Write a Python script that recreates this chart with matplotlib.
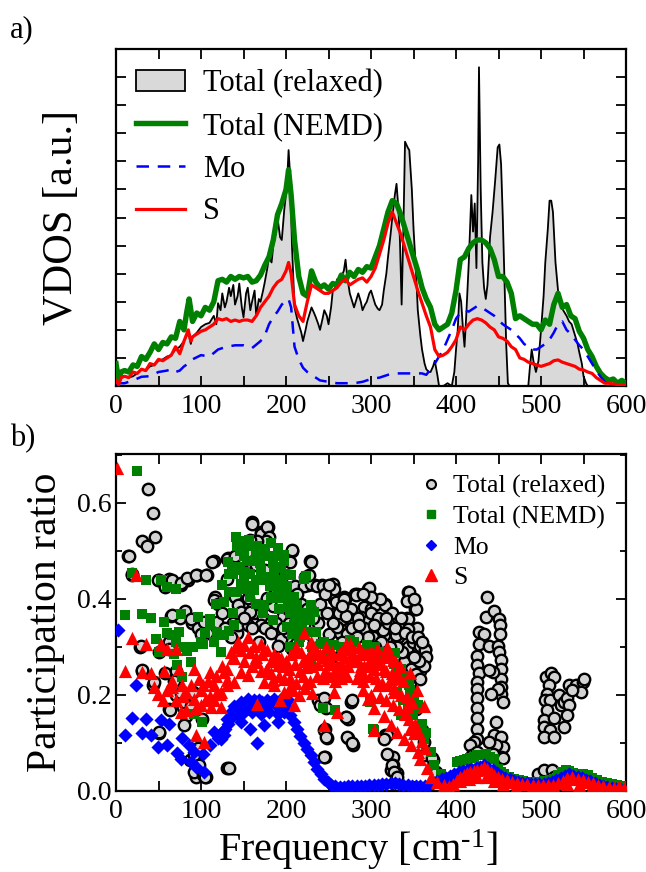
import numpy as np
import matplotlib
matplotlib.use("Agg")
import matplotlib.pyplot as plt
from matplotlib.patches import Patch
from matplotlib.lines import Line2D
from matplotlib.ticker import MultipleLocator, NullFormatter

plt.rcParams['font.family'] = ['Liberation Serif', 'DejaVu Serif']
plt.rcParams['mathtext.fontset'] = 'custom'
plt.rcParams['mathtext.rm'] = 'Liberation Serif'
plt.rcParams['mathtext.it'] = 'Liberation Serif:italic'

# ---------------- (a) VDOS ----------------
relaxed_f = [0,3,6,10,15,20,25,30,35,40,45,50,55,60,65,70,75,80,85,88,90,95,100,105,110,115,118,120,123,125,128,130,133,135,138,140,143,145,148,150,153,155,158,160,163,165,168,170,173,175,178,180,183,185,188,190,193,195,198,201,203,205,207,210,213,215,218,220,223,225,228,230,233,235,238,240,243,245,248,250,253,255,258,260,263,265,268,270,272,275,278,280,283,285,288,290,293,295,298,300,303,305,308,310,313,315,318,320,323,325,328,330,332,334,336,338,340,343,345,348,350,353,355,358,360,363,365,368,370,373,375,378,380,385,390,395,398,400,402,404,406,408,410,412,415,418,420,422,424,426,427,429,431,433,435,437,440,443,446,449,451,453,455,457,459,461,463,485,487,489,491,494,497,500,503,505,508,510,512,514,517,520,523,526,530,533,536,540,543,545,548,550,553,555,600]
relaxed_v = [0.1,0.0,0.3,0.35,0.3,0.35,0.45,0.6,0.55,0.7,0.75,0.9,0.95,1.05,1.1,1.3,1.4,1.6,1.9,1.5,1.75,1.9,2.1,2.2,2.25,2.5,2.2,2.95,2.7,3.3,2.8,3.0,3.5,3.2,3.6,2.9,3.2,3.65,2.8,2.45,3.3,3.5,2.7,3.0,3.4,2.5,3.1,3.0,3.4,3.7,4.2,4.6,4.4,5.0,5.5,6.0,5.3,5.2,6.3,7.1,8.4,7.4,5.0,2.8,2.4,2.2,1.9,1.6,2.0,2.3,2.6,2.8,2.6,2.45,2.2,2.0,2.4,2.7,2.5,2.2,2.8,3.4,3.5,3.8,3.6,3.9,4.1,4.5,3.9,3.3,3.0,2.8,3.1,3.3,3.0,2.7,2.9,3.0,3.3,3.4,3.1,2.9,2.75,2.7,2.9,3.4,4.0,4.6,5.4,6.0,6.8,7.2,6.4,5.2,2.9,5.5,8.7,8.5,8.4,7.0,5.6,4.0,2.7,1.8,1.3,0.8,0.6,0.5,0.5,0.7,0.9,0.4,0.0,0.0,0.1,0.0,0.5,1.3,2.0,3.3,3.0,2.1,1.4,2.5,4.4,6.8,5.5,6.5,4.2,8.0,11.35,7.0,4.4,3.5,3.1,3.6,5.3,6.2,7.3,8.5,8.6,7.9,6.0,3.7,1.5,0.1,0.0,0.0,0.7,1.3,0.9,0.5,0.9,2.0,3.2,4.4,5.6,6.6,6.6,6.2,4.4,3.4,2.9,2.7,2.5,2.3,2.2,1.8,1.5,1.2,0.8,0.35,0.1,0.0,0.0]

nemd_f = [0,3,6,10,15,20,25,30,35,40,45,50,55,60,65,70,75,80,83,86,90,95,100,105,110,115,120,125,130,135,140,145,150,155,160,165,170,175,180,185,190,195,200,203,206,210,215,220,225,230,235,240,245,250,255,260,265,270,275,280,285,290,295,300,305,310,315,320,325,330,335,340,345,350,355,360,365,370,375,380,385,390,395,400,405,410,415,420,425,430,435,440,445,450,455,460,465,470,475,480,485,490,495,500,505,510,515,520,525,530,535,540,545,550,555,560,565,570,575,580,585,590,595,600]
nemd_v = [0.8,0.2,0.5,0.55,0.5,0.75,0.7,1.05,0.95,1.2,1.5,1.3,1.55,1.5,1.75,1.7,2.3,2.0,2.6,3.1,2.3,2.6,2.5,2.8,2.7,3.0,3.75,3.8,3.7,3.9,3.8,3.9,3.85,3.9,3.7,3.75,3.95,4.3,4.6,5.2,6.1,6.5,7.0,7.7,6.8,5.2,3.9,3.3,3.2,4.1,3.7,3.5,3.6,3.45,3.65,3.6,3.95,3.75,4.05,3.9,4.15,4.05,4.25,4.2,4.6,5.0,5.6,6.2,6.6,6.5,6.1,5.6,5.1,4.6,4.1,3.5,3.1,2.8,2.2,2.0,2.1,2.2,2.6,3.4,4.5,4.6,4.9,5.1,5.2,5.2,5.1,4.9,4.5,3.9,3.9,3.7,3.3,2.4,2.5,2.4,2.3,2.2,2.2,2.0,2.35,2.2,2.9,3.3,2.8,2.9,2.5,2.4,1.95,1.7,1.3,1.05,0.7,0.45,0.3,0.2,0.25,0.1,0.2,0.1]

mo_f = [0,10,20,30,40,50,60,65,70,75,80,85,90,100,110,120,130,140,150,160,170,175,180,185,190,195,200,203,206,210,215,220,225,230,240,250,260,270,280,290,300,310,320,330,340,350,360,365,370,375,380,385,390,395,400,405,410,415,420,425,430,435,440,445,450,455,460,465,470,475,480,485,490,495,500,505,510,515,520,525,530,535,540,545,550,555,560,565,570,575,580,590,600]
mo_v = [0.1,0.1,0.2,0.33,0.35,0.5,0.55,0.6,0.5,0.55,0.7,0.8,0.95,1.1,1.05,1.3,1.4,1.45,1.45,1.35,1.6,1.8,2.2,2.45,2.65,2.9,3.05,3.1,2.8,1.4,0.95,0.65,0.5,0.4,0.2,0.15,0.1,0.1,0.1,0.15,0.25,0.3,0.4,0.45,0.45,0.45,0.45,0.4,0.6,0.8,1.05,1.3,1.65,2.0,2.4,2.6,2.7,2.65,2.75,2.85,2.8,2.7,2.6,2.5,2.35,2.2,2.1,2.0,1.85,1.7,1.5,1.4,1.3,1.3,1.4,1.5,1.65,1.9,2.2,2.3,2.0,1.85,1.65,1.45,1.3,1.05,0.8,0.55,0.33,0.15,0.05,0.03,0.0]

s_f = [0,3,6,10,15,20,25,30,35,40,45,50,55,60,65,70,75,80,85,88,90,95,100,105,110,115,120,125,130,135,140,145,150,155,160,165,170,175,180,185,190,195,200,203,206,210,215,220,225,230,235,240,245,250,255,260,265,270,275,280,285,290,295,300,305,310,315,320,325,330,335,340,345,350,355,360,365,370,375,380,385,390,395,400,405,410,415,420,425,430,435,440,445,450,455,460,465,470,475,480,485,490,495,500,505,510,515,520,525,530,535,540,545,550,555,560,565,570,575,580,590,600]
s_v = [0.2,0.05,0.3,0.35,0.3,0.5,0.45,0.6,0.55,0.8,0.75,0.95,0.9,1.0,1.1,1.4,1.15,1.6,2.0,1.6,1.75,1.85,1.95,2.0,2.1,2.2,2.4,2.35,2.4,2.3,2.35,2.3,2.35,2.35,2.3,2.5,2.8,3.0,3.2,3.5,3.7,3.8,4.1,4.4,4.0,2.9,2.5,2.3,3.0,3.6,3.5,3.4,3.3,3.3,3.4,3.5,3.7,3.8,3.6,3.7,3.8,3.85,3.7,3.9,4.2,4.7,5.2,5.8,6.2,5.8,5.4,4.9,4.4,3.9,3.4,2.95,2.5,2.1,1.3,1.05,1.1,1.2,1.4,1.65,2.1,2.0,2.2,2.35,2.4,2.35,2.25,2.1,2.0,1.75,1.7,1.6,1.4,1.3,1.0,0.95,0.85,0.8,0.75,0.7,0.75,0.8,0.9,0.93,0.85,0.8,0.75,0.7,0.6,0.57,0.5,0.45,0.3,0.2,0.1,0.1,0.05,0.05]

# ---------------- (b) participation ratio ----------------
pr_relaxed_f = [14,19,28,30,31,36,38,43,46,44,50,50,50,58,58,62,62,63,65,70,71,75,77,77,79,81,85,87,89,94,95,95,97,97,106,107,107,115,116,131,132,138,140,142,148,160,162,162,167,171,173,177,179,185,191,197,201,207,207,209,221,222,226,228,232,234,238,238,242,254,238,240,246,248,246,256,258,264,268,269,271,271,273,273,275,277,279,281,283,287,297,299,303,316,317,318,323,324,326,326,328,330,332,336,342,344,344,346,346,346,348,352,352,354,355,358,360,364,373,
    15,19,49,58,62,66,76,84,94,106,113,131,149,158,160,170,178,180,176,166,162,158,115,131,143,155,147,158,170,178,186,194,202,143,155,170,182,194,202,190,66,88,100,104,119,29,62,31,45,68,80,88,82,90,64,80,92,102,92,98,133,105,51,101,152,
    207,229,211,221,229,237,243,255,227,345,298,353,259,268,282,292,276,300,306,317,325,255,266,276,288,294,310,251,260,272,290,302,315,329,343,343,349,358,364,329,339,347,353,358,343,335,245,247,278,270,245,247,272,278,245,319,315,353,358,362,319,325,327,331,329,362,372,376,205,
    255,262,270,278,285,292,300,308,314,320,328,335,340,348,355,360,365,362,357,350,337,330,322,312,305,296,284,278,266,258,262,286,304,318,342,350,256,266,310,300,290,248,
    120,125,128,135,150,160,168,175,182,188,196,204,212,218,225,232,240,246,250,213,197,185,175,165,155,148,140,190,
    437,435,445,450,452,452,427,433,427,425,425,427,425,425,425,425,425,425,425,421,417,419,425,421,439,449,451,453,453,453,453,453,455,449,441,443,439,447,445,453,455,447,439,453,443,455,496,504,513,515,
    506,512,515,509,507,505,511,507,503,515,503,511,503,515,521,523,527,531,533,531,527,533,541,549,547,537,551]
pr_relaxed_v = [0.49,0.45,0.30,0.25,0.52,0.51,0.63,0.58,0.53,0.22,0.44,0.12,0.29,0.43,0.245,0.17,0.31,0.44,0.365,0.25,0.20,0.36,0.43,0.205,0.175,0.375,0.44,0.065,0.35,0.03,0.45,0.08,0.09,0.34,0.03,0.45,0.33,0.48,0.405,0.047,0.485,0.35,0.405,0.33,0.39,0.56,0.52,0.37,0.52,0.54,0.36,0.53,0.55,0.385,0.49,0.365,0.32,0.50,0.295,0.34,0.345,0.445,0.43,0.48,0.32,0.43,0.37,0.35,0.43,0.43,0.19,0.18,0.13,0.11,0.07,0.40,0.40,0.33,0.405,0.40,0.38,0.155,0.15,0.11,0.35,0.185,0.095,0.41,0.41,0.33,0.42,0.40,0.32,0.117,0.39,0.315,0.37,0.044,0.07,0.055,0.27,0.037,0.32,0.245,0.36,0.415,0.30,0.34,0.27,0.22,0.245,0.38,0.17,0.34,0.30,0.25,0.127,0.295,0.065,
    0.49,0.451,0.44,0.425,0.442,0.44,0.433,0.444,0.45,0.45,0.478,0.484,0.478,0.478,0.557,0.536,0.55,0.53,0.52,0.52,0.505,0.522,0.397,0.442,0.387,0.401,0.373,0.373,0.387,0.401,0.408,0.387,0.38,0.345,0.345,0.345,0.352,0.317,0.331,0.303,0.366,0.359,0.328,0.352,0.352,0.303,0.296,0.251,0.227,0.229,0.185,0.178,0.157,0.206,0.168,0.137,0.04,0.033,0.075,0.054,0.047,0.029,0.123,0.15,0.171,
    0.501,0.478,0.428,0.428,0.432,0.428,0.428,0.432,0.449,0.415,0.422,0.38,0.394,0.40,0.408,0.383,0.38,0.38,0.39,0.387,0.37,0.369,0.359,0.359,0.362,0.352,0.352,0.328,0.342,0.328,0.331,0.321,0.324,0.324,0.359,0.338,0.310,0.303,0.293,0.275,0.268,0.254,0.244,0.233,0.233,0.247,0.193,0.172,0.19,0.155,0.127,0.113,0.113,0.099,0.071,0.116,0.109,0.171,0.130,0.102,0.078,0.054,0.04,0.03,0.012,0.075,0.068,0.04,0.477,
    0.35,0.37,0.365,0.34,0.36,0.34,0.37,0.36,0.335,0.35,0.34,0.36,0.33,0.32,0.32,0.31,0.28,0.26,0.27,0.28,0.29,0.30,0.30,0.31,0.30,0.32,0.32,0.30,0.31,0.30,0.28,0.345,0.345,0.36,0.395,0.40,0.42,0.385,0.40,0.405,0.41,0.37,
    0.39,0.37,0.34,0.32,0.36,0.34,0.31,0.34,0.33,0.35,0.34,0.35,0.36,0.39,0.38,0.36,0.39,0.41,0.43,0.41,0.43,0.45,0.46,0.47,0.50,0.51,0.49,0.47,
    0.404,0.362,0.374,0.359,0.345,0.328,0.331,0.328,0.306,0.282,0.262,0.245,0.227,0.213,0.193,0.172,0.151,0.130,0.109,0.102,0.095,0.074,0.081,0.053,0.303,0.303,0.289,0.272,0.254,0.234,0.217,0.203,0.185,0.213,0.203,0.248,0.251,0.144,0.116,0.113,0.092,0.095,0.102,0.071,0.078,0.068,0.036,0.043,0.043,0.029,
    0.238,0.245,0.238,0.221,0.203,0.189,0.189,0.168,0.147,0.151,0.134,0.127,0.113,0.113,0.200,0.179,0.186,0.193,0.179,0.158,0.134,0.22,0.22,0.227,0.206,0.210,0.234]

pr_nemd_f = [25,19,35,53,60,70,11,31,41,56,76,66,74,47,50,68,84,88,102,96,111,119,127,115,123,133,139,127,133,141,147,78,92,101,72,
    141,147,156,166,174,182,190,198,194,186,178,170,162,155,198,182,174,192,194,133,143,152,142,146,158,165,177,185,193,195,201,203,213,216,224,228,201,185,173,165,158,150,138,146,165,181,183,213,224,158,169,132,138,150,136,154,189,199,209,209,216,
    198,206,221,202,213,229,221,233,209,219,225,207,235,241,276,290,308,327,331,343,335,349,355,362,370,374,382,390,401,405,243,302,258,229,252,275,303,308,328,334,346,346,303,299,
    205,215,230,245,255,265,280,295,305,318,325,335,340,345,350,355,360,365,352,338,330,
    150,160,170,180,190,200,205,210,175,188,125,118,110,105,100,90,80,70,60,
    401,405,409,413,417,421,425,429,435,440,445,449,453,457,462,468,474,479,484,489,494,499,504,510,515,520,525,529,533,538,543,549,555,560,566,572,578,584,589,594,410,420,430,440,520,530,540,550]
pr_nemd_v = [0.667,0.455,0.44,0.44,0.424,0.42,0.367,0.369,0.361,0.352,0.369,0.325,0.331,0.317,0.289,0.286,0.291,0.269,0.306,0.362,0.359,0.331,0.324,0.31,0.289,0.334,0.345,0.394,0.415,0.415,0.432,0.237,0.161,0.144,0.262,
    0.53,0.52,0.523,0.51,0.495,0.516,0.506,0.492,0.467,0.46,0.446,0.44,0.419,0.426,0.415,0.401,0.387,0.38,0.401,0.452,0.46,0.456,0.51,0.50,0.51,0.495,0.49,0.475,0.467,0.44,0.426,0.384,0.384,0.37,0.37,0.356,0.342,0.356,0.37,0.39,0.405,0.42,0.453,0.467,0.44,0.426,0.405,0.342,0.447,0.453,0.474,0.478,0.37,0.44,0.467,0.48,0.44,0.453,0.405,0.37,0.32,
    0.48,0.45,0.442,0.40,0.387,0.387,0.366,0.373,0.345,0.345,0.331,0.328,0.331,0.307,0.307,0.293,0.29,0.265,0.206,0.178,0.158,0.158,0.130,0.109,0.081,0.054,0.036,0.026,0.022,0.036,0.172,0.130,0.168,0.272,0.28,0.315,0.29,0.28,0.287,0.252,0.21,0.176,0.127,0.186,
    0.30,0.31,0.30,0.31,0.305,0.30,0.31,0.305,0.30,0.29,0.28,0.255,0.24,0.22,0.20,0.18,0.14,0.12,0.17,0.19,0.25,
    0.49,0.48,0.46,0.44,0.42,0.41,0.37,0.36,0.505,0.49,0.43,0.39,0.345,0.33,0.31,0.30,0.30,0.31,0.33,
    0.060,0.062,0.064,0.066,0.068,0.071,0.074,0.076,0.078,0.070,0.067,0.046,0.040,0.036,0.030,0.026,0.022,0.020,0.019,0.018,0.019,0.019,0.020,0.022,0.026,0.034,0.040,0.043,0.042,0.038,0.036,0.035,0.033,0.028,0.023,0.019,0.016,0.014,0.012,0.010,0.03,0.04,0.05,0.03,0.02,0.025,0.02,0.018]

pr_mo_f = [2,24,19,11,35,31,41,53,62,49,60,72,78,86,92,76,88,94,104,102,111,115,123,127,131,135,139,147,155,162,170,178,186,194,202,166,147,158,174,190,
    128,132,136,140,144,150,154,158,165,168,172,176,182,188,192,196,200,204,120,126,134,142,150,160,170,180,190,198,
    198,205,209,213,217,221,225,229,233,237,241,245,249,253,258,263,268,273,278,283,288,293,298,303,308,313,318,323,328,333,338,343,348,353,358,363,368,373,378,
    383,388,393,398,403,408,413,418,423,428,433,438,443,448,453,458,463,468,473,478,483,488,493,498,503,508,513,518,523,528,533,538,543,548,553,558,563,568,573,578,583,588,593,598]
pr_mo_v = [0.335,0.22,0.153,0.117,0.15,0.12,0.117,0.147,0.14,0.092,0.095,0.08,0.11,0.095,0.081,0.067,0.06,0.05,0.04,0.078,0.095,0.123,0.109,0.116,0.15,0.165,0.178,0.185,0.192,0.19,0.178,0.19,0.192,0.192,0.19,0.10,0.144,0.13,0.137,0.144,
    0.13,0.14,0.16,0.17,0.175,0.18,0.185,0.18,0.185,0.19,0.185,0.18,0.185,0.18,0.185,0.18,0.175,0.17,0.11,0.125,0.15,0.16,0.165,0.165,0.16,0.165,0.16,0.165,
    0.192,0.158,0.144,0.13,0.115,0.10,0.087,0.074,0.06,0.046,0.036,0.026,0.018,0.012,0.010,0.009,0.009,0.010,0.010,0.011,0.010,0.011,0.012,0.012,0.013,0.014,0.015,0.016,0.017,0.015,0.013,0.012,0.011,0.010,0.010,0.011,0.012,0.016,0.020,
    0.024,0.028,0.032,0.036,0.040,0.042,0.044,0.046,0.048,0.050,0.054,0.048,0.044,0.038,0.032,0.027,0.024,0.021,0.019,0.017,0.016,0.015,0.014,0.014,0.015,0.016,0.018,0.022,0.028,0.032,0.036,0.032,0.030,0.027,0.023,0.020,0.016,0.013,0.010,0.008,0.006,0.005,0.004,0.003]

pr_s_f = [1.6,24,19,35,53,60,70,11,31,41,56,74,92,111,127,45,49,66,82,98,102,115,92,106,119,131,70,76,82,94,106,123,115,94,104,166,131,139,147,155,143,135,162,170,178,186,194,166,178,190,198,186,198,174,155,147,123,139,
    79,111,122,130,138,177,185,205,193,224,224,236,248,256,264,267,271,279,287,295,291,303,
    221,229,213,221,237,245,253,260,268,276,284,292,300,308,315,323,327,308,296,304,315,323,331,339,347,355,358,366,370,378,386,257,245,260,304,209,276,288,
    275,291,307,319,326,330,346,354,342,362,
    200,206,212,218,226,232,240,247,254,262,270,278,286,293,300,307,314,321,328,334,
    203,210,217,224,231,238,246,252,259,266,273,280,288,296,304,311,318,325,332,338,
    205,212,220,228,236,244,251,258,265,272,283,291,299,306,313,320,327,335,342,348,
    208,215,222,230,290,300,310,318,326,333,340,345,352,356,360,364,350,346,
    140,150,158,165,172,182,190,196,150,160,170,182,192,125,118,108,100,88,78,66,60,55,100,112,
    392,397,401,405,409,413,417,421,425,429,433,437,441,445,449,454,460,466,472,478,484,490,496,502,508,514,520,526,531,537,543,549,555,561,567,573,580,586,592,598,
    405,415,425,435,445,455,470,490,510,530,545,560]
pr_s_v = [0.672,0.449,0.319,0.307,0.307,0.296,0.296,0.249,0.248,0.245,0.249,0.255,0.255,0.248,0.248,0.217,0.201,0.217,0.206,0.234,0.22,0.22,0.192,0.192,0.206,0.22,0.189,0.165,0.168,0.172,0.189,0.175,0.189,0.116,0.102,0.182,0.255,0.276,0.293,0.321,0.31,0.29,0.303,0.307,0.293,0.286,0.276,0.269,0.255,0.262,0.234,0.22,0.206,0.227,0.241,0.248,0.206,0.227,
    0.197,0.197,0.203,0.231,0.28,0.252,0.231,0.217,0.19,0.224,0.259,0.287,0.273,0.245,0.287,0.252,0.307,0.28,0.252,0.287,0.245,0.273,
    0.33,0.31,0.29,0.275,0.29,0.28,0.27,0.26,0.28,0.275,0.27,0.26,0.275,0.27,0.255,0.234,0.206,0.22,0.192,0.172,0.157,0.137,0.123,0.109,0.095,0.081,0.067,0.047,0.029,0.019,0.012,0.206,0.137,0.165,0.127,0.18,0.303,0.29,
    0.307,0.287,0.28,0.30,0.273,0.245,0.245,0.21,0.176,0.176,
    0.27,0.285,0.30,0.29,0.28,0.295,0.285,0.30,0.29,0.285,0.295,0.29,0.30,0.285,0.29,0.295,0.28,0.285,0.27,0.26,
    0.255,0.265,0.25,0.27,0.26,0.265,0.25,0.265,0.255,0.265,0.26,0.27,0.26,0.265,0.255,0.265,0.25,0.245,0.235,0.23,
    0.235,0.225,0.24,0.23,0.24,0.235,0.24,0.23,0.235,0.24,0.235,0.23,0.24,0.235,0.225,0.22,0.215,0.20,0.195,0.185,
    0.21,0.20,0.215,0.205,0.21,0.20,0.195,0.19,0.18,0.17,0.16,0.15,0.14,0.12,0.105,0.09,0.12,0.13,
    0.30,0.305,0.29,0.28,0.285,0.27,0.28,0.26,0.27,0.26,0.25,0.245,0.24,0.26,0.24,0.23,0.21,0.22,0.22,0.23,0.21,0.19,0.18,0.175,
    0.010,0.015,0.022,0.030,0.034,0.038,0.040,0.042,0.043,0.046,0.050,0.046,0.040,0.034,0.029,0.025,0.022,0.019,0.016,0.015,0.014,0.013,0.012,0.012,0.012,0.013,0.016,0.020,0.027,0.029,0.026,0.022,0.019,0.016,0.013,0.011,0.008,0.007,0.010,0.006,
    0.02,0.025,0.03,0.03,0.02,0.015,0.008,0.006,0.006,0.015,0.012,0.008]

tick_x = [0, 100, 200, 300, 400, 500, 600]

fig = plt.figure(figsize=(6.46, 8.72), dpi=100)
ax1 = fig.add_axes([0.1796, 0.5573, 0.7895, 0.3865])
ax2 = fig.add_axes([0.1796, 0.0929, 0.7895, 0.3865])

green = '#008000'
red = '#ff0000'
blue = '#0000ff'

ax1.fill_between(relaxed_f, relaxed_v, 0, color='#d9d9d9', lw=0, zorder=1)
ax1.plot(relaxed_f, relaxed_v, color='black', lw=1.3, zorder=2)
ax1.plot(nemd_f, nemd_v, color=green, lw=3.9, zorder=3)
ax1.plot(mo_f, mo_v, color=blue, lw=1.8, dashes=(5, 3.5), zorder=4)
ax1.plot(s_f, s_v, color=red, lw=2.3, zorder=5)
ax1.set_xlim(0, 600)
ax1.set_ylim(0, 12)
ax1.set_ylabel('VDOS [a.u.]', fontsize=30.5, labelpad=22)
ax1.yaxis.set_major_locator(MultipleLocator(1))
ax1.yaxis.set_major_formatter(NullFormatter())

handles1 = [Patch(facecolor='#d9d9d9', edgecolor='black', lw=1.3),
            Line2D([], [], color=green, lw=3.9),
            Line2D([], [], color=blue, lw=1.8, dashes=(5, 3.5)),
            Line2D([], [], color=red, lw=2.3)]
ax1.legend(handles1, ['Total (relaxed)', 'Total (NEMD)', 'Mo', 'S'],
           loc='upper left', bbox_to_anchor=(0.0, 1.0), frameon=False,
           fontsize=22, handlelength=1.6, handletextpad=0.6, labelspacing=0.45,
           borderaxespad=0.25)

ax2.scatter(pr_relaxed_f, pr_relaxed_v, s=68, facecolor='#d3d3d3', edgecolor='black', lw=1.7, zorder=2)
ax2.scatter(pr_nemd_f, pr_nemd_v, s=52, marker='s', color=green, lw=0, zorder=3)
ax2.scatter(pr_mo_f, pr_mo_v, s=52, marker='D', color=blue, lw=0, zorder=4)
ax2.scatter(pr_s_f, pr_s_v, s=90, marker='^', color=red, lw=0, zorder=5)
ax2.set_xlim(0, 600)
ax2.set_ylim(0, 0.702)
ax2.yaxis.set_major_locator(MultipleLocator(0.2))
ax2.yaxis.set_minor_locator(MultipleLocator(0.1))
ax2.set_ylabel('Participation ratio', fontsize=30, labelpad=8)
ax2.set_xlabel('Frequency [cm$^{\u2010 1}$]', fontsize=29, labelpad=2)
ax2.xaxis.label.set_x(0.475)

handles2 = [Line2D([], [], ls='none', marker='o', ms=6.5, mfc='#d3d3d3', mec='black', mew=1.5),
            Line2D([], [], ls='none', marker='s', ms=6, color=green),
            Line2D([], [], ls='none', marker='D', ms=5.5, color=blue),
            Line2D([], [], ls='none', marker='^', ms=8, color=red)]
ax2.legend(handles2, ['Total (relaxed)', 'Total (NEMD)', 'Mo', 'S'],
           loc='upper right', bbox_to_anchor=(1.0, 1.0), frameon=False,
           fontsize=18.5, handlelength=0.8, handletextpad=0.45, labelspacing=0.28,
           borderaxespad=0.4)

for ax in (ax1, ax2):
    ax.xaxis.set_major_locator(MultipleLocator(100))
    ax.xaxis.set_minor_locator(MultipleLocator(50))
    ax.tick_params(which='both', direction='in', top=True, right=True, width=1.3)
    ax.tick_params(which='major', length=7, labelsize=20)
    ax.tick_params(axis='x', which='minor', length=7)
    ax.tick_params(axis='y', which='minor', length=4)
    ax.tick_params(axis='x', pad=6)
    for sp in ax.spines.values():
        sp.set_linewidth(1.6)
    ax.set_xticks(tick_x)

fig.text(0.016, 0.966, 'a)', fontsize=22, va='center')
fig.text(0.016, 0.497, 'b)', fontsize=22, va='center')

fig.savefig('out.png', dpi=100)
